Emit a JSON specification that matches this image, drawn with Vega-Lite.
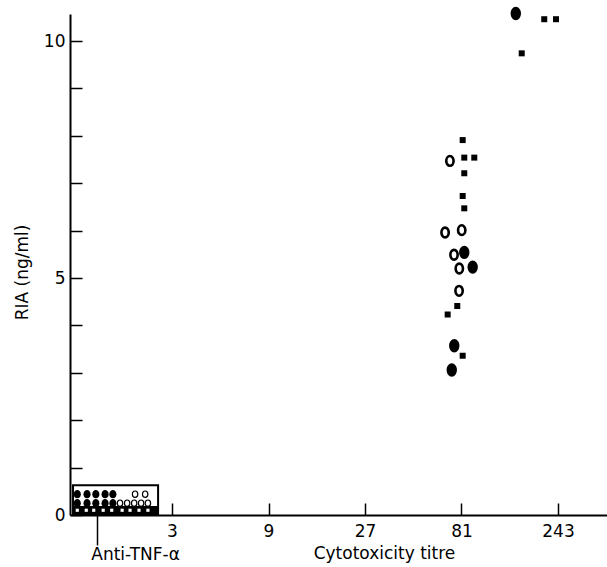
{
  "$schema": "https://vega.github.io/schema/vega-lite/v6.json",
  "width": 537,
  "height": 501,
  "autosize": {"type": "none"},
  "padding": {"left": 70, "top": 14, "right": 0, "bottom": 52},
  "background": "white",
  "config": {
    "view": {"stroke": null},
    "axis": {
      "grid": false,
      "domainColor": "black",
      "domainWidth": 2,
      "tickColor": "black",
      "tickWidth": 1.5,
      "labelColor": "black",
      "labelFont": "DejaVu Sans",
      "labelFontSize": 17,
      "titleFont": "DejaVu Sans",
      "titleFontSize": 17,
      "titleFontWeight": "normal",
      "titleColor": "black"
    }
  },
  "datasets": {
    "box": [{"x1": 0.972, "x2": 2.56, "y1": 0, "y2": 0.63}],
    "band": [{"x1": 0.972, "x2": 2.56, "y1": 0, "y2": 0.19}],
    "pts": [
      {"titre": 83.6, "ria": 5.54, "kind": "filled"},
      {"titre": 92.0, "ria": 5.23, "kind": "filled"},
      {"titre": 74.6, "ria": 3.57, "kind": "filled"},
      {"titre": 72.5, "ria": 3.06, "kind": "filled"},
      {"titre": 150.3, "ria": 10.58, "kind": "filled"},
      {"titre": 71.0, "ria": 7.47, "kind": "open"},
      {"titre": 67.2, "ria": 5.96, "kind": "open"},
      {"titre": 81.2, "ria": 6.01, "kind": "open"},
      {"titre": 74.4, "ria": 5.49, "kind": "open"},
      {"titre": 79.0, "ria": 5.20, "kind": "open"},
      {"titre": 78.8, "ria": 4.73, "kind": "open"},
      {"titre": 82.1, "ria": 7.91, "kind": "square"},
      {"titre": 83.6, "ria": 7.54, "kind": "square"},
      {"titre": 93.7, "ria": 7.54, "kind": "square"},
      {"titre": 83.6, "ria": 7.21, "kind": "square"},
      {"titre": 82.1, "ria": 6.73, "kind": "square"},
      {"titre": 83.6, "ria": 6.47, "kind": "square"},
      {"titre": 77.2, "ria": 4.41, "kind": "square"},
      {"titre": 69.2, "ria": 4.23, "kind": "square"},
      {"titre": 82.1, "ria": 3.36, "kind": "square"},
      {"titre": 207.8, "ria": 10.46, "kind": "square"},
      {"titre": 237.6, "ria": 10.46, "kind": "square"},
      {"titre": 160.8, "ria": 9.74, "kind": "square"},
      {"titre": 1.02, "ria": 0.44, "kind": "filled_s"},
      {"titre": 1.14, "ria": 0.44, "kind": "filled_s"},
      {"titre": 1.26, "ria": 0.44, "kind": "filled_s"},
      {"titre": 1.40, "ria": 0.44, "kind": "filled_s"},
      {"titre": 1.53, "ria": 0.44, "kind": "filled_s"},
      {"titre": 1.97, "ria": 0.44, "kind": "open_s"},
      {"titre": 2.21, "ria": 0.44, "kind": "open_s"},
      {"titre": 1.02, "ria": 0.25, "kind": "filled_s"},
      {"titre": 1.14, "ria": 0.25, "kind": "filled_s"},
      {"titre": 1.26, "ria": 0.25, "kind": "filled_s"},
      {"titre": 1.40, "ria": 0.25, "kind": "filled_s"},
      {"titre": 1.53, "ria": 0.25, "kind": "filled_s"},
      {"titre": 1.66, "ria": 0.25, "kind": "open_s"},
      {"titre": 1.80, "ria": 0.25, "kind": "open_s"},
      {"titre": 1.95, "ria": 0.25, "kind": "open_s"},
      {"titre": 2.11, "ria": 0.25, "kind": "open_s"},
      {"titre": 2.28, "ria": 0.25, "kind": "open_s"},
      {"titre": 1.02, "ria": 0.1, "kind": "dot"},
      {"titre": 1.13, "ria": 0.1, "kind": "dot"},
      {"titre": 1.23, "ria": 0.1, "kind": "dot"},
      {"titre": 1.37, "ria": 0.1, "kind": "dot"},
      {"titre": 1.51, "ria": 0.1, "kind": "dot"},
      {"titre": 1.70, "ria": 0.1, "kind": "dot"},
      {"titre": 1.86, "ria": 0.1, "kind": "dot"},
      {"titre": 2.06, "ria": 0.1, "kind": "dot"},
      {"titre": 2.28, "ria": 0.1, "kind": "dot"}
    ]
  },
  "layer": [
    {
      "data": {"name": "box"},
      "mark": {"type": "rect", "fill": "white", "stroke": "black", "strokeWidth": 2},
      "encoding": {
        "x": {"field": "x1", "type": "quantitative",
          "scale": {"type": "log", "base": 3, "domain": [0.939, 424.6], "nice": false},
          "axis": {
            "title": "Cytotoxicity titre",
            "values": [1.278, 3, 9, 27, 81, 243],
            "labelExpr": "datum.value < 2 ? 'Anti-TNF-α' : format(datum.value, 'd')",
            "labelFlush": false,
            "labelOverlap": false,
            "labelBaseline": "top",
            "tickSize": {"condition": {"test": "datum.value < 2", "value": 30}, "value": -12},
            "labelPadding": {"condition": {"test": "datum.value < 2", "value": 1}, "value": 20},
            "labelOffset": {"condition": {"test": "datum.value < 2", "value": 38}, "value": 0},
            "titleX": 314,
            "titleY": 43,
            "titleBaseline": "alphabetic",
            "titleAnchor": "middle"
          }
        },
        "x2": {"field": "x2"},
        "y": {"field": "y1", "type": "quantitative",
          "scale": {"domain": [0, 10.57], "nice": false},
          "axis": {
            "title": "RIA (ng/ml)",
            "values": [0, 1, 2, 3, 4, 5, 6, 7, 8, 9, 10],
            "labelExpr": "datum.value % 5 === 0 ? format(datum.value, 'd') : ''",
            "tickSize": -12,
            "labelPadding": 17,
            "titlePadding": 12,
            "titleY": 258
          }
        },
        "y2": {"field": "y2"}
      }
    },
    {
      "data": {"name": "band"},
      "mark": {"type": "rect", "fill": "black"},
      "encoding": {
        "x": {"field": "x1", "type": "quantitative"},
        "x2": {"field": "x2"},
        "y": {"field": "y1", "type": "quantitative"},
        "y2": {"field": "y2"}
      }
    },
    {
      "data": {"name": "pts"},
      "transform": [{"filter": "datum.kind === 'filled'"}],
      "mark": {"type": "point", "shape": "M0,-1A0.77,1,0,1,1,0,1A0.77,1,0,1,1,0,-1Z", "filled": true, "color": "black", "opacity": 1, "size": 180},
      "encoding": {
        "x": {"field": "titre", "type": "quantitative"},
        "y": {"field": "ria", "type": "quantitative"}
      }
    },
    {
      "data": {"name": "pts"},
      "transform": [{"filter": "datum.kind === 'open'"}],
      "mark": {"type": "point", "shape": "M0,-1A0.75,1,0,1,1,0,1A0.75,1,0,1,1,0,-1Z", "filled": false, "stroke": "black", "strokeWidth": 2.6, "fill": "white", "fillOpacity": 0, "opacity": 1, "size": 95},
      "encoding": {
        "x": {"field": "titre", "type": "quantitative"},
        "y": {"field": "ria", "type": "quantitative"}
      }
    },
    {
      "data": {"name": "pts"},
      "transform": [{"filter": "datum.kind === 'square'"}],
      "mark": {"type": "point", "shape": "square", "filled": true, "color": "black", "opacity": 1, "size": 36},
      "encoding": {
        "x": {"field": "titre", "type": "quantitative"},
        "y": {"field": "ria", "type": "quantitative"}
      }
    },
    {
      "data": {"name": "pts"},
      "transform": [{"filter": "datum.kind === 'filled_s'"}],
      "mark": {"type": "point", "shape": "M0,-1A0.85,1,0,1,1,0,1A0.85,1,0,1,1,0,-1Z", "filled": true, "color": "black", "opacity": 1, "size": 70},
      "encoding": {
        "x": {"field": "titre", "type": "quantitative"},
        "y": {"field": "ria", "type": "quantitative"}
      }
    },
    {
      "data": {"name": "pts"},
      "transform": [{"filter": "datum.kind === 'open_s'"}],
      "mark": {"type": "point", "shape": "M0,-1A0.85,1,0,1,1,0,1A0.85,1,0,1,1,0,-1Z", "filled": false, "stroke": "black", "strokeWidth": 1.2, "fill": "white", "fillOpacity": 1, "opacity": 1, "size": 40},
      "encoding": {
        "x": {"field": "titre", "type": "quantitative"},
        "y": {"field": "ria", "type": "quantitative"}
      }
    },
    {
      "data": {"name": "pts"},
      "transform": [{"filter": "datum.kind === 'dot'"}],
      "mark": {"type": "point", "shape": "square", "filled": true, "color": "white", "opacity": 1, "size": 10},
      "encoding": {
        "x": {"field": "titre", "type": "quantitative"},
        "y": {"field": "ria", "type": "quantitative"}
      }
    }
  ]
}
